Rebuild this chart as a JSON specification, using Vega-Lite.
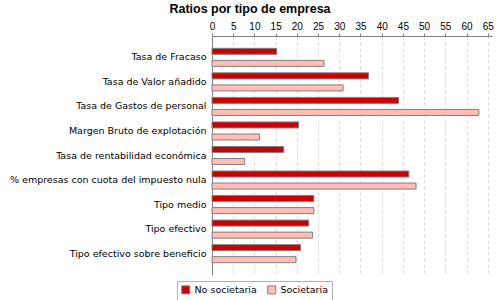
{
  "$schema": "https://vega.github.io/schema/vega-lite/v6.json",
  "autosize": "none",
  "width": 280,
  "height": 239,
  "padding": {"left": 212, "top": 36, "right": 8, "bottom": 25},
  "background": "white",
  "title": {"text": "Ratios por tipo de empresa", "font": "Liberation Sans", "fontSize": 12.5, "fontWeight": "bold", "color": "black", "anchor": "middle", "dx": -102, "offset": 6},
  "config": {"view": {"stroke": null}},
  "data": {"values": [
    {"ratio": "Tasa de Fracaso", "tipo": "No societaria", "valor": 15.25},
    {"ratio": "Tasa de Fracaso", "tipo": "Societaria", "valor": 26.4},
    {"ratio": "Tasa de Valor añadido", "tipo": "No societaria", "valor": 36.9},
    {"ratio": "Tasa de Valor añadido", "tipo": "Societaria", "valor": 30.9},
    {"ratio": "Tasa de Gastos de personal", "tipo": "No societaria", "valor": 44.0},
    {"ratio": "Tasa de Gastos de personal", "tipo": "Societaria", "valor": 62.9},
    {"ratio": "Margen Bruto de explotación", "tipo": "No societaria", "valor": 20.4},
    {"ratio": "Margen Bruto de explotación", "tipo": "Societaria", "valor": 11.2},
    {"ratio": "Tasa de rentabilidad económica", "tipo": "No societaria", "valor": 16.9},
    {"ratio": "Tasa de rentabilidad económica", "tipo": "Societaria", "valor": 7.7},
    {"ratio": "% empresas con cuota del impuesto nula", "tipo": "No societaria", "valor": 46.4},
    {"ratio": "% empresas con cuota del impuesto nula", "tipo": "Societaria", "valor": 48.1},
    {"ratio": "Tipo medio", "tipo": "No societaria", "valor": 24.0},
    {"ratio": "Tipo medio", "tipo": "Societaria", "valor": 24.0},
    {"ratio": "Tipo efectivo", "tipo": "No societaria", "valor": 22.8},
    {"ratio": "Tipo efectivo", "tipo": "Societaria", "valor": 23.7},
    {"ratio": "Tipo efectivo sobre beneficio", "tipo": "No societaria", "valor": 20.9},
    {"ratio": "Tipo efectivo sobre beneficio", "tipo": "Societaria", "valor": 19.8}
  ]},
  "mark": {"type": "bar", "stroke": "#808080", "strokeWidth": 1},
  "encoding": {
    "y": {"field": "ratio", "type": "nominal", "sort": null, "title": null,
      "scale": {"paddingInner": 0, "paddingOuter": 0.37},
      "axis": {"ticks": false, "labelPadding": 6, "labelFont": "DejaVu Sans", "labelFontSize": 9.5, "labelColor": "black", "domainColor": "#808080", "grid": false, "labelLimit": 300}},
    "yOffset": {"field": "tipo", "type": "nominal", "sort": ["No societaria", "Societaria"],
      "scale": {"paddingInner": 0.5, "paddingOuter": 0.27}},
    "x": {"field": "valor", "type": "quantitative", "title": null,
      "scale": {"domain": [0, 66], "nice": false},
      "axis": {"orient": "top", "values": [0,5,10,15,20,25,30,35,40,45,50,55,60,65], "labelFont": "Liberation Sans", "labelFontSize": 10, "labelColor": "black", "labelPadding": 2, "tickSize": 3, "tickColor": "#808080", "domainColor": "#808080", "grid": true, "gridColor": "#d8d8d8", "gridDash": [3, 3], "labelFlush": false}},
    "color": {"field": "tipo", "type": "nominal", "title": null,
      "scale": {"domain": ["No societaria", "Societaria"], "range": ["#cc0000", "#ffbdb5"]},
      "legend": {"orient": "none", "legendX": -35, "legendY": 245, "direction": "horizontal", "strokeColor": "#b0b0b0", "padding": 4, "symbolType": "square", "symbolSize": 64, "symbolStrokeColor": "#808080", "symbolStrokeWidth": 1, "symbolOpacity": 1, "labelFont": "DejaVu Sans", "labelFontSize": 9.5, "labelColor": "black", "columnPadding": 8, "labelOffset": 4}}
  }
}
